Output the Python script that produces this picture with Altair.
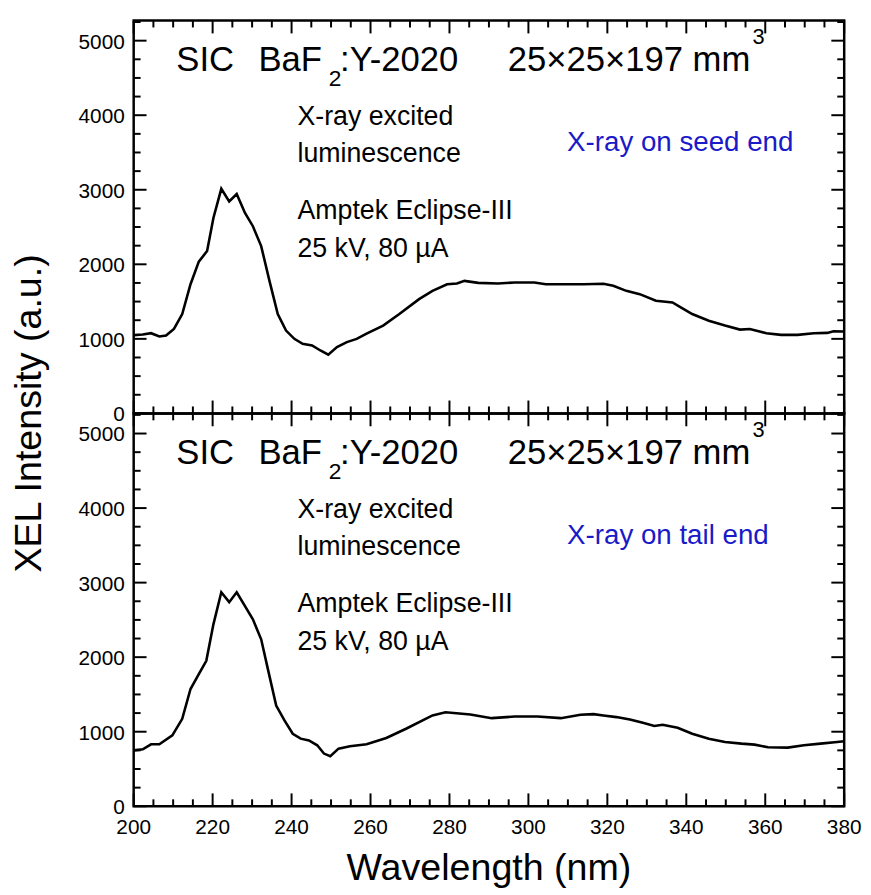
import altair as alt
import pandas as pd

# ---------------- data ----------------
wl_seed = [200, 202.3, 204.4, 206.5, 208.2, 210.2, 212.3, 214.4, 216.5, 218.6,
           220.2, 222.2, 224.2, 226.1, 228.2, 230.2, 232.3, 234.4, 236.5, 238.6,
           240.7, 242.8, 245.2, 247.3, 249.3, 251.5, 254, 256.5, 259, 263.2,
           267.3, 272.3, 275.7, 279.4, 281.9, 283.8, 287.3, 292.3, 296.5, 301.5,
           304.4, 309, 314, 319, 321.5, 324.8, 328.2, 332.3, 336.5, 338.6,
           341.5, 345.7, 349.8, 353.6, 356.1, 360.3, 364, 368.2, 372.3, 375.7,
           377.3, 380]
xel_seed = [1050, 1058, 1076, 1031, 1044, 1133, 1333, 1733, 2036, 2178,
            2622, 3013, 2844, 2942, 2689, 2511, 2244, 1778, 1333, 1111,
            1000, 933, 911, 844, 787, 889, 956, 1000, 1070, 1178,
            1333, 1533, 1644, 1733, 1742, 1778, 1751, 1742, 1756, 1756,
            1733, 1733, 1733, 1738, 1711, 1644, 1600, 1511, 1489, 1422,
            1333, 1244, 1178, 1124, 1133, 1076, 1053, 1053, 1076, 1080,
            1102, 1098]

wl_tail = [200, 202.3, 204.4, 206.5, 209.8, 212.3, 214.4, 216.5, 218.4, 220.2,
           222.2, 224.2, 226.1, 228.2, 230.2, 232.3, 234, 236.1, 238.2, 240.3,
           242.3, 244.4, 246.5, 248.2, 249.8, 251.9, 254.8, 259, 264, 269,
           275.7, 279, 285.3, 290.7, 296.5, 302.3, 308.2, 313.2, 316.5, 319,
           322.3, 325.7, 329, 331.9, 334, 337.8, 341.5, 345.7, 349.8, 354,
           357.3, 360.7, 365.7, 369.8, 374, 378.2, 380]
xel_tail = [750, 764, 831, 831, 951, 1173, 1573, 1773, 1951, 2440,
            2871, 2738, 2871, 2684, 2507, 2240, 1840, 1351, 1151, 973,
            907, 884, 818, 707, 671, 773, 804, 831, 916, 1040,
            1218, 1260, 1231, 1182, 1204, 1204, 1182, 1227, 1236, 1218,
            1196, 1164, 1120, 1076, 1093, 1053, 973, 907, 862, 840,
            827, 791, 787, 818, 840, 862, 871]

x_major = list(range(200, 381, 20))
x_minor = [v for v in range(200, 381, 5) if v % 20]
y_major = list(range(0, 5001, 1000))
y_minor = [v for v in range(0, 5251, 250) if v % 1000]

panel_notes = ["X-ray on seed end", "X-ray on tail end"]
x_title = "Wavelength (nm)"
y_title = "XEL Intensity (a.u.)"

# ---------------- layout constants ----------------
W, H = 718, 397
YMAX = 5270
FONT = "Liberation Sans"
MAJ, MIN = 13, 7
LBL = 21

xs = alt.Scale(domain=[200, 380], nice=False, zero=False)
ys = alt.Scale(domain=[0, YMAX], nice=False, zero=True)

ONE = alt.Data(values=[{}])


def note(text, wl, val, size, color="black", align="left"):
    return alt.Chart(ONE).mark_text(
        text=text, align=align, baseline="alphabetic", font=FONT,
        fontSize=size, color=color
    ).encode(x=alt.X(datum=wl, scale=xs, axis=None),
             y=alt.Y(datum=val, scale=ys, axis=None))


def x_ticks(vals, length):
    d = pd.DataFrame({"wl": vals})
    base = alt.Chart(d).mark_rule(color="black", strokeWidth=2)
    return [
        base.encode(x=alt.X("wl:Q", scale=xs, axis=None),
                    y=alt.value(0), y2=alt.value(length)),
        base.encode(x=alt.X("wl:Q", scale=xs, axis=None),
                    y=alt.value(H), y2=alt.value(H - length)),
    ]


def y_ticks(vals, length):
    d = pd.DataFrame({"xel": vals})
    base = alt.Chart(d).mark_rule(color="black", strokeWidth=2)
    return [
        base.encode(y=alt.Y("xel:Q", scale=ys, axis=None),
                    x=alt.value(0), x2=alt.value(length)),
        base.encode(y=alt.Y("xel:Q", scale=ys, axis=None),
                    x=alt.value(W), x2=alt.value(W - length)),
    ]


def y_labels():
    d = pd.DataFrame({"xel": y_major})
    return alt.Chart(d).mark_text(
        align="right", baseline="alphabetic", dy=8, font=FONT,
        fontSize=LBL, color="black"
    ).encode(y=alt.Y("xel:Q", scale=ys, axis=None), x=alt.value(-9),
             text=alt.Text("xel:Q", format="d"))


def x_labels():
    d = pd.DataFrame({"wl": x_major})
    return alt.Chart(d).mark_text(
        align="center", baseline="alphabetic", font=FONT,
        fontSize=LBL, color="black"
    ).encode(x=alt.X("wl:Q", scale=xs, axis=None), y=alt.value(H + 28),
             text=alt.Text("wl:Q", format="d"))


def panel(wl, xel, blue, bottom):
    df = pd.DataFrame({"wl": wl, "xel": xel})
    line = alt.Chart(df).mark_line(color="black", strokeWidth=2.6).encode(
        x=alt.X("wl:Q", scale=xs, axis=None),
        y=alt.Y("xel:Q", scale=ys, axis=None),
        order="wl:Q",
    )
    layers = [line]
    layers += x_ticks(x_major, MAJ) + x_ticks(x_minor, MIN)
    layers += y_ticks(y_major, MAJ) + y_ticks(y_minor, MIN)
    layers += [y_labels()]
    layers += [
        note("SIC", 210.8, 4593, 35),
        note("BaF", 231.6, 4593, 35),
        note("2", 249.4, 4394, 23),
        note(":Y-2020", 252.3, 4593, 35),
        note("25\u00d725\u00d7197 mm", 356.2, 4593, 35, align="right"),
        note("3", 356.8, 4951, 22),
        note("X-ray excited", 241.5, 3863, 27),
        note("luminescence", 241.5, 3372, 27),
        note("Amptek Eclipse-III", 241.5, 2602, 27),
        note("25 kV, 80 \u00b5A", 241.5, 2097, 27),
        note(blue, 309.8, 3518, 28, color="#1a1ac8"),
    ]
    if bottom:
        layers += [x_labels()]
        layers += [alt.Chart(ONE).mark_text(
            text=x_title, align="center", baseline="alphabetic", font=FONT,
            fontSize=38, color="black"
        ).encode(x=alt.value(W / 2), y=alt.value(H + 75))]
    else:
        layers += [alt.Chart(ONE).mark_text(
            text=y_title, align="center", baseline="middle", angle=270,
            font=FONT, fontSize=38, color="black"
        ).encode(x=alt.value(-105), y=alt.value(H))]
    return alt.layer(*layers).properties(width=W, height=H)


top = panel(wl_seed, xel_seed, panel_notes[0], False)
bot = panel(wl_tail, xel_tail, panel_notes[1], True)

chart = alt.vconcat(top, bot, spacing=0, bounds="flush").properties(
    padding={"left": 1, "top": 5, "right": 0, "bottom": 0},
).configure_view(stroke="black", strokeWidth=2.5)

chart.save("out.html", embed_options={"renderer": "svg", "actions": False})
